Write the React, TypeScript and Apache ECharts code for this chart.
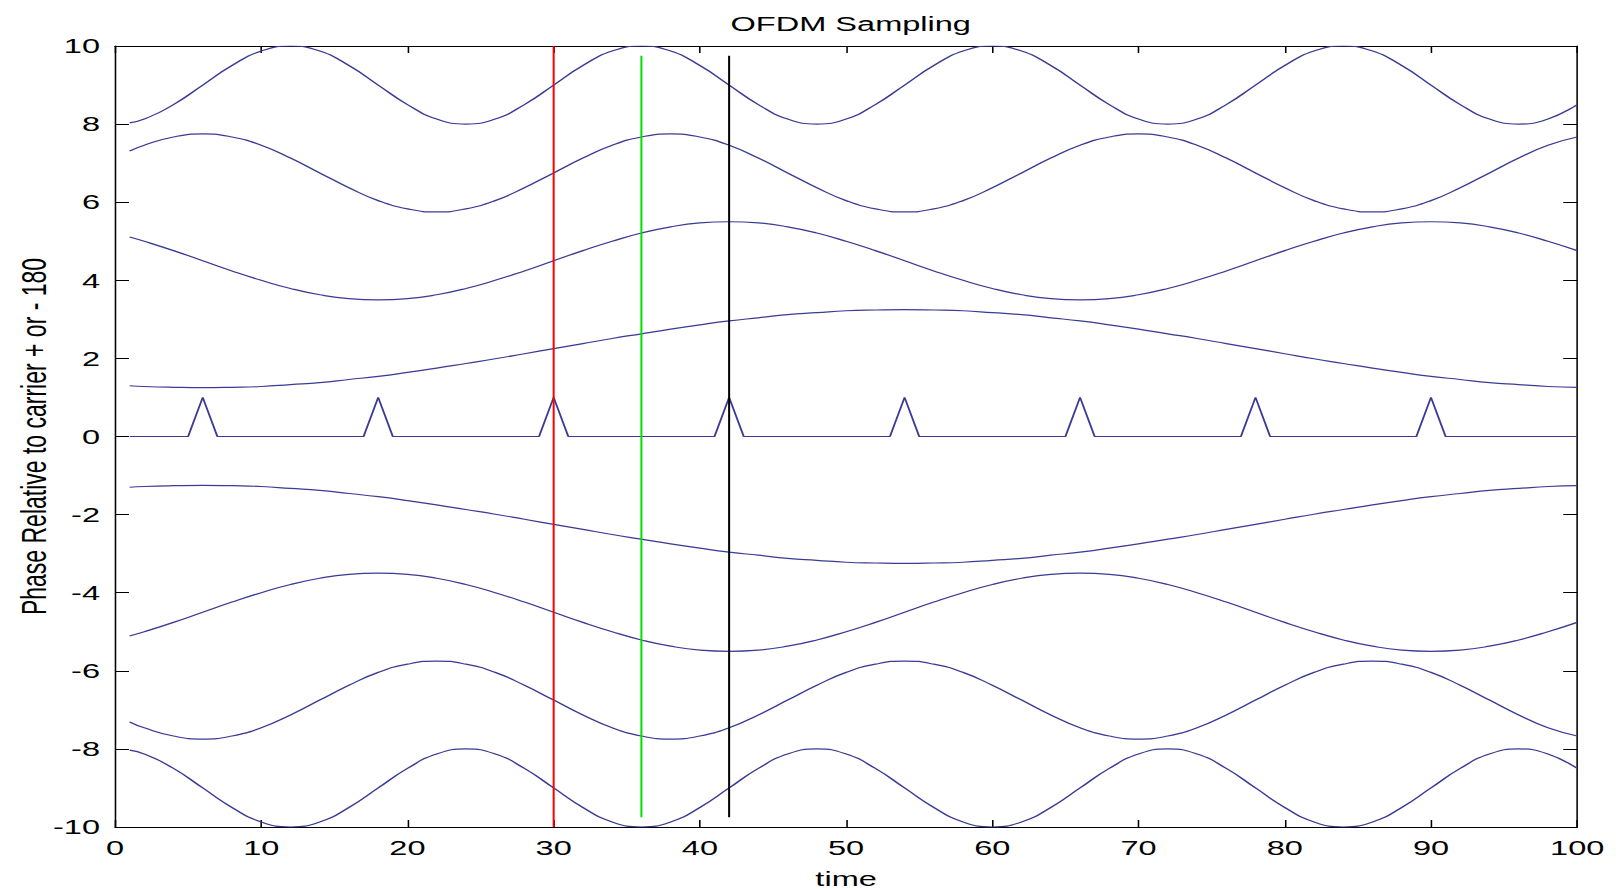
import React, { useEffect, useRef } from "react";
import * as echarts from "echarts";

// Sample times shared by the eight sub-carrier traces
const TIMES = [
  1, 2, 4, 6, 8, 10, 12, 14, 16, 18, 20, 22, 24, 26, 28, 30, 32, 34, 36, 38, 40, 42, 44, 46, 48, 50,
  52, 54, 56, 58, 60, 62, 64, 66, 68, 70, 72, 74, 76, 78, 80, 82, 84, 86, 88, 90, 92, 94, 96, 98, 100,
];

// Upper carriers (phase offsets around +9, +6.75, +4.5, +2.25)
const CARRIER_P4 = [
  8.03,
  8.13, 8.5, 9, 9.5, 9.87, 10, 9.87, 9.5, 9, 8.5, 8.13, 8,
  8.13, 8.5, 9, 9.5, 9.87, 10, 9.87, 9.5, 9, 8.5, 8.13, 8,
  8.13, 8.5, 9, 9.5, 9.87, 10, 9.87, 9.5, 9, 8.5, 8.13, 8,
  8.13, 8.5, 9, 9.5, 9.87, 10, 9.87, 9.5, 9, 8.5, 8.13, 8,
  8.13, 8.5,
];
const CARRIER_P3 = [
  7.31, 7.46, 7.67,
  7.75, 7.67, 7.46, 7.13, 6.75, 6.37, 6.04, 5.83, 5.75, 5.83, 6.04, 6.37, 6.75, 7.13, 7.46, 7.67,
  7.75, 7.67, 7.46, 7.13, 6.75, 6.37, 6.04, 5.83, 5.75, 5.83, 6.04, 6.37, 6.75, 7.13, 7.46, 7.67,
  7.75, 7.67, 7.46, 7.13, 6.75, 6.37, 6.04, 5.83, 5.75, 5.83, 6.04, 6.37, 6.75, 7.13, 7.46, 7.67,
];
const CARRIER_P2 = [
  5.11,
  5.0, 4.76, 4.5, 4.24, 4.0, 3.79, 3.63, 3.53, 3.5,
  3.53, 3.63, 3.79, 4.0, 4.24, 4.5, 4.76, 5.0, 5.21, 5.37, 5.47, 5.5,
  5.47, 5.37, 5.21, 5.0, 4.76, 4.5, 4.24, 4.0, 3.79, 3.63, 3.53, 3.5,
  3.53, 3.63, 3.79, 4.0, 4.24, 4.5, 4.76, 5.0, 5.21, 5.37, 5.47, 5.5,
  5.47, 5.37, 5.21, 5.0, 4.76,
];
const CARRIER_P1 = [
  1.3, 1.28, 1.26, 1.25, 1.26, 1.28, 1.33, 1.38, 1.46, 1.54, 1.64, 1.75, 1.87, 1.99, 2.12, 2.25,
  2.38, 2.51, 2.63, 2.75, 2.86, 2.96, 3.04, 3.12, 3.17, 3.22, 3.24, 3.25,
  3.24, 3.22, 3.17, 3.12, 3.04, 2.96, 2.86, 2.75, 2.63, 2.51, 2.38, 2.25, 2.12, 1.99, 1.87, 1.75,
  1.64, 1.54, 1.46, 1.38, 1.33, 1.28, 1.26,
];

// Lower carriers (phase offsets around -2.25, -4.5, -6.75, -9)
const CARRIER_N1 = [
  -1.3, -1.28, -1.26, -1.25, -1.26, -1.28, -1.33, -1.38, -1.46, -1.54, -1.64, -1.75, -1.87, -1.99,
  -2.12, -2.25, -2.38, -2.51, -2.63, -2.75, -2.86, -2.96, -3.04, -3.12, -3.17, -3.22, -3.24, -3.25,
  -3.24, -3.22, -3.17, -3.12, -3.04, -2.96, -2.86, -2.75, -2.63, -2.51, -2.38, -2.25, -2.12, -1.99,
  -1.87, -1.75, -1.64, -1.54, -1.46, -1.38, -1.33, -1.28, -1.26,
];
const CARRIER_N2 = [
  -5.11,
  -5.0, -4.76, -4.5, -4.24, -4.0, -3.79, -3.63, -3.53, -3.5,
  -3.53, -3.63, -3.79, -4.0, -4.24, -4.5, -4.76, -5.0, -5.21, -5.37, -5.47, -5.5,
  -5.47, -5.37, -5.21, -5.0, -4.76, -4.5, -4.24, -4.0, -3.79, -3.63, -3.53, -3.5,
  -3.53, -3.63, -3.79, -4.0, -4.24, -4.5, -4.76, -5.0, -5.21, -5.37, -5.47, -5.5,
  -5.47, -5.37, -5.21, -5.0, -4.76,
];
const CARRIER_N3 = [
  -7.31, -7.46, -7.67,
  -7.75, -7.67, -7.46, -7.13, -6.75, -6.37, -6.04, -5.83, -5.75, -5.83, -6.04, -6.37, -6.75, -7.13, -7.46, -7.67,
  -7.75, -7.67, -7.46, -7.13, -6.75, -6.37, -6.04, -5.83, -5.75, -5.83, -6.04, -6.37, -6.75, -7.13, -7.46, -7.67,
  -7.75, -7.67, -7.46, -7.13, -6.75, -6.37, -6.04, -5.83, -5.75, -5.83, -6.04, -6.37, -6.75, -7.13, -7.46, -7.67,
];
const CARRIER_N4 = [
  -8.03,
  -8.13, -8.5, -9, -9.5, -9.87, -10, -9.87, -9.5, -9, -8.5, -8.13, -8,
  -8.13, -8.5, -9, -9.5, -9.87, -10, -9.87, -9.5, -9, -8.5, -8.13, -8,
  -8.13, -8.5, -9, -9.5, -9.87, -10, -9.87, -9.5, -9, -8.5, -8.13, -8,
  -8.13, -8.5, -9, -9.5, -9.87, -10, -9.87, -9.5, -9, -8.5, -8.13, -8,
  -8.13, -8.5,
];

// Sampling instants (unit pulses along the zero line)
const PULSE_X = [1, 5, 6, 7, 17, 18, 19, 29, 30, 31, 41, 42, 43, 53, 54, 55, 65, 66, 67, 77, 78, 79, 89, 90, 91, 100];
const PULSE_Y = [0, 0, 1, 0, 0, 1, 0, 0, 1, 0, 0, 1, 0, 0, 1, 0, 0, 1, 0, 0, 1, 0, 0, 1, 0, 0];

// Sampling markers: time and vertical extent
const MARKERS = [
  { name: "early", t: 30, lo: -10, hi: 10, color: "#ff0000" },
  { name: "on time", t: 36, lo: -9.75, hi: 9.75, color: "#00e000" },
  { name: "late", t: 42, lo: -9.75, hi: 9.75, color: "#000000" },
];

const X_TICKS = { min: 0, max: 100, interval: 10 };
const Y_TICKS = { min: -10, max: 10, interval: 2 };

const CARRIERS = [
  CARRIER_P4, CARRIER_P3, CARRIER_P2, CARRIER_P1,
  CARRIER_N1, CARRIER_N2, CARRIER_N3, CARRIER_N4,
];

const TRACE_COLOR = "#3b3b95";
const FONT = "'Liberation Sans', Arial, sans-serif";

// The figure is laid out on a narrower canvas and widened horizontally,
// which gives the wide-set lettering of the exported plot.
const PAGE_W = 1618;
const PAGE_H = 890;
const STRETCH = 1.55;
const CANVAS_W = PAGE_W / STRETCH;
const h = (px: number) => px / STRETCH;

export default function App() {
  const ref = useRef<HTMLDivElement>(null);

  useEffect(() => {
    if (!ref.current) return;
    const chart = echarts.init(ref.current, null, { renderer: "svg" });

    const pair = (xs: number[], ys: number[]) => xs.map((x, i) => [x, ys[i]]);

    const carrierSeries = CARRIERS.map((ys, i) => ({
      name: `carrier ${i + 1}`,
      type: "line",
      data: pair(TIMES, ys),
      showSymbol: false,
      smooth: true,
      lineStyle: { color: TRACE_COLOR, width: 1.2 },
      z: 2,
    }));

    const pulseSeries = {
      name: "samples",
      type: "line",
      data: pair(PULSE_X, PULSE_Y),
      showSymbol: false,
      lineStyle: { color: TRACE_COLOR, width: 1.2 },
      z: 2,
    };

    const markerSeries = MARKERS.map((m) => ({
      name: m.name,
      type: "line",
      data: [
        [m.t, m.lo],
        [m.t, m.hi],
      ],
      showSymbol: false,
      lineStyle: { color: m.color, width: 1.3 },
      z: 3,
    }));

    const axisLine = { show: true, onZero: false, lineStyle: { color: "#000", width: 1 } };
    const xTick = { show: true, inside: true, length: 7, lineStyle: { color: "#000", width: 1 } };
    const yTick = { show: true, inside: true, length: h(14), lineStyle: { color: "#000", width: 1 } };
    const labelFont = { fontFamily: FONT, fontSize: 21, color: "#000" };

    chart.setOption({
      animation: false,
      backgroundColor: "#fff",
      title: {
        text: "OFDM Sampling",
        left: h(843),
        textAlign: "center",
        top: 8,
        textStyle: { fontFamily: FONT, fontSize: 21, fontWeight: "normal", color: "#000" },
      },
      grid: {
        left: h(115),
        right: h(41),
        top: 46,
        bottom: 63,
        containLabel: false,
        outerBoundsMode: "none",
      },
      xAxis: [
        {
          type: "value",
          ...X_TICKS,
          name: "time",
          nameLocation: "middle",
          nameGap: 41,
          nameTextStyle: { fontFamily: FONT, fontSize: 21, color: "#000" },
          axisLine,
          axisTick: xTick,
          axisLabel: { ...labelFont, margin: 10 },
          splitLine: { show: false },
        },
        {
          type: "value",
          position: "top",
          ...X_TICKS,
          axisLine,
          axisTick: xTick,
          axisLabel: { show: false },
          splitLine: { show: false },
        },
      ],
      yAxis: [
        {
          type: "value",
          ...Y_TICKS,
          name: "Phase Relative to carrier + or - 180",
          nameLocation: "middle",
          nameRotate: 90,
          nameGap: 41,
          nameMoveOverlap: false,
          nameTextStyle: { fontFamily: FONT, fontSize: 23, color: "#000" },
          axisLine,
          axisTick: yTick,
          axisLabel: { ...labelFont, margin: h(15) },
          splitLine: { show: false },
        },
        {
          type: "value",
          position: "right",
          ...Y_TICKS,
          axisLine,
          axisTick: yTick,
          axisLabel: { show: false },
          splitLine: { show: false },
        },
      ],
      series: [...carrierSeries, pulseSeries, ...markerSeries],
    });

    return () => chart.dispose();
  }, []);

  return (
    <div
      style={{
        position: "fixed",
        left: 0,
        top: 0,
        width: PAGE_W,
        height: PAGE_H,
        overflow: "hidden",
        background: "#fff",
      }}
    >
      <div
        ref={ref}
        style={{
          width: CANVAS_W,
          height: PAGE_H,
          transform: `scaleX(${STRETCH})`,
          transformOrigin: "0 0",
        }}
      />
    </div>
  );
}
